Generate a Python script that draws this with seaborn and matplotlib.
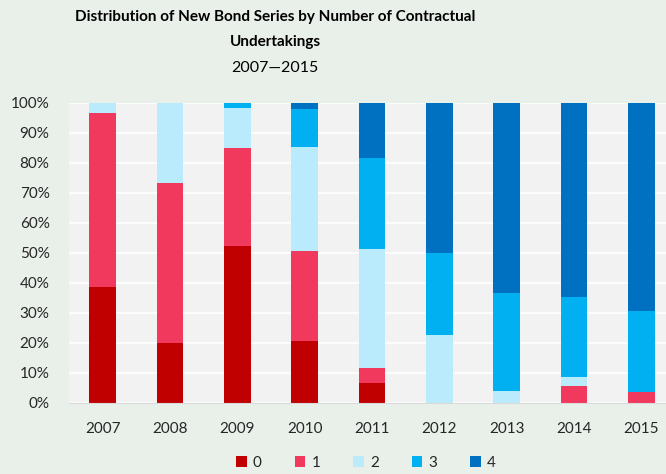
#!/usr/bin/env python3
# -*- coding: utf-8 -*-
"""Stacked 100% bars: new bond series by number of contractual undertakings."""

import numpy as np
import pandas as pd
import seaborn as sns
import matplotlib.pyplot as plt
from matplotlib.patches import Patch

# %% Data (share of series, %)

lst_years = ['2007', '2008', '2009', '2010', '2011', '2012', '2013', '2014',
             '2015']
lst_cats = ['0', '1', '2', '3', '4']

shr_0 = [38.8, 19.9, 52.2, 20.8, 6.7, 0.0, 0.0, 0.0, 0.0]
shr_1 = [57.8, 53.5, 32.8, 29.9, 4.9, 0.0, 0.0, 5.8, 3.6]
shr_2 = [3.4, 26.6, 13.2, 34.8, 39.7, 22.7, 4.0, 2.9, 0.0]
shr_3 = [0.0, 0.0, 1.8, 12.5, 30.4, 27.3, 32.6, 26.6, 27.2]
shr_4 = [0.0, 0.0, 0.0, 2.0, 18.3, 50.0, 63.4, 64.7, 69.2]

lst_colors = ['#C00000', '#F0395D', '#B9EBFC', '#00B0F0', '#0070C0']

# %% Build cumulative table

df = pd.DataFrame({'year': lst_years, '0': shr_0, '1': shr_1, '2': shr_2,
                   '3': shr_3, '4': shr_4})
df_cum = df[lst_cats].cumsum(axis=1) / 100.0
df_cum['year'] = df['year']

# %% Plot

sns.set_style('white')
plt.rcParams['font.family'] = ['Lato', 'DejaVu Sans']

clr_bg = '#E9F0EA'
fig = plt.figure(figsize=(6.66, 4.74), dpi=100, facecolor=clr_bg)
ax = fig.add_axes([69 / 666, 1 - 403 / 474, 606 / 666, 300 / 474])
ax.set_facecolor('#F2F2F2')

# draw from the top of the stack down so lower segments overlay
for ind in reversed(range(len(lst_cats))):
    sns.barplot(data=df_cum, x='year', y=lst_cats[ind], color=lst_colors[ind],
                width=0.4, linewidth=0, saturation=1, ax=ax)

ax.set_ylim(0, 1)
ax.set_xlim(-0.5, 8.5)
ax.set_yticks(np.arange(0, 1.01, 0.1))
ax.set_yticklabels(['{:d}%'.format(int(round(v * 100)))
                    for v in np.arange(0, 1.01, 0.1)])
ax.yaxis.grid(True, color='white', linewidth=1.2)
ax.set_axisbelow(True)
ax.set_xlabel('')
ax.set_ylabel('')
for side in ['top', 'right', 'left']:
    ax.spines[side].set_visible(False)
ax.spines['bottom'].set_color('#D9D9D9')
ax.tick_params(axis='both', length=0, labelsize=11, colors='#262626')
ax.tick_params(axis='x', pad=14)
ax.tick_params(axis='y', pad=14)

# titles
fig.text(275 / 666, 1 - 17 / 474,
         'Distribution of New Bond Series by Number of Contractual',
         ha='center', va='center', fontsize=11, fontweight='bold',
         color='black')
fig.text(275 / 666, 1 - 42 / 474, 'Undertakings', ha='center', va='center',
         fontsize=11, fontweight='bold', color='black')
fig.text(275 / 666, 1 - 68 / 474, '2007\u20142015', ha='center',
         va='center', fontsize=11.5, color='black')

# legend
lst_handles = [Patch(facecolor=c, edgecolor='none') for c in lst_colors]
fig.legend(lst_handles, lst_cats, loc='center', ncol=5,
           bbox_to_anchor=(366 / 666, 1 - 463 / 474), frameon=False,
           fontsize=11, handlelength=0.7, handleheight=0.7,
           columnspacing=2.15, handletextpad=0.4)

fig.savefig('out.png', dpi=100, facecolor=clr_bg)
